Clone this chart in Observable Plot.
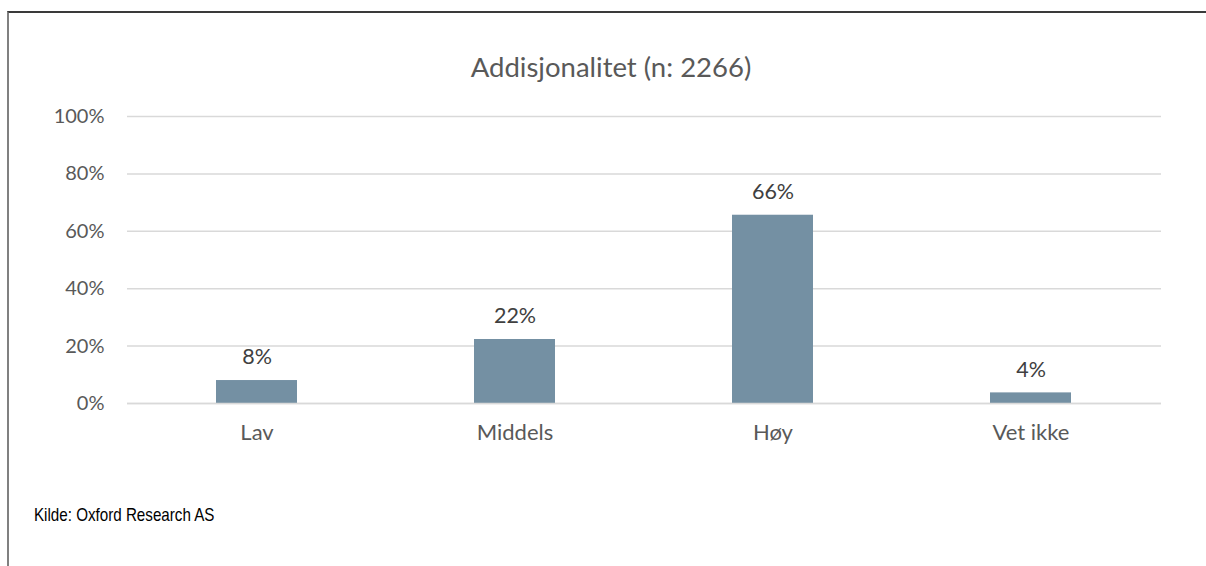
<!DOCTYPE html>
<html>
<head>
<meta charset="utf-8">
<script src="https://cdn.jsdelivr.net/npm/d3@7"></script>
<script src="https://cdn.jsdelivr.net/npm/@observablehq/plot@0.6"></script>
<style>
  html, body { margin: 0; padding: 0; background: #fff; overflow: hidden; }
  #wrap { position: relative; width: 1206px; height: 566px; overflow: hidden; background: #fff; }
  #frame { position: absolute; left: 7px; top: 11px; width: 1199px; height: 555px;
           border-left: 2px solid #808080; border-top: 2px solid #3a3a3a; box-sizing: border-box; }
  #title { position: absolute; left: 0; width: 1222px; top: 49px; text-align: center;
           font-family: Lato, "Open Sans", sans-serif; font-size: 27.5px; color: #595959; line-height: 36px; }
  #chart { position: absolute; left: 0; top: 0; }
  #caption { position: absolute; left: 34px; top: 504px; font-family: "Liberation Sans", Arial, sans-serif;
             font-size: 18.5px; color: #000; line-height: 22px; white-space: nowrap;
             transform: scaleX(0.82); transform-origin: 0 0; }
</style>
</head>
<body>
<div id="wrap">
  <div id="frame"></div>
  <div id="chart"></div>
  <div id="title">Addisjonalitet (n: 2266)</div>
  <div id="caption">Kilde: Oxford Research AS</div>
</div>
<script>
const categories = ["Lav", "Middels", "Høy", "Vet ikke"];
const shares = [0.08, 0.223, 0.656, 0.037];
const yTicks = [0, 0.2, 0.4, 0.6, 0.8, 1.0];

const data = categories.map((c, i) => ({category: c, share: shares[i]}));
const pct = d3.format(".0%");

const chart = Plot.plot({
  width: 1206,
  height: 470,
  marginLeft: 127,
  marginRight: 45,
  marginTop: 116,
  marginBottom: 67,
  style: {fontFamily: "Lato, 'Open Sans', sans-serif", background: "transparent"},
  x: {domain: categories, paddingInner: 0.686, paddingOuter: 0.343, label: null},
  y: {domain: [0, 1], label: null},
  marks: [
    Plot.gridY(yTicks, {stroke: "#d9d9d9", strokeOpacity: 1, strokeWidth: 1.5}),
    Plot.barY(data, {x: "category", y: "share", fill: "#7490a3"}),
    Plot.ruleY([0], {stroke: "#d9d9d9", strokeWidth: 1.5}),
    Plot.text(data, {x: "category", y: "share", text: d => pct(d.share), dy: -23,
                     lineAnchor: "middle", fontSize: 21.5, fill: "#404040"}),
    Plot.axisY({ticks: yTicks, tickFormat: pct, tickSize: 0, tickPadding: 23,
                fontSize: 20, color: "#595959", label: null}),
    Plot.axisX({tickSize: 0, tickPadding: 21, fontSize: 22, color: "#595959", label: null})
  ]
});
document.getElementById("chart").appendChild(chart);
</script>
</body>
</html>
